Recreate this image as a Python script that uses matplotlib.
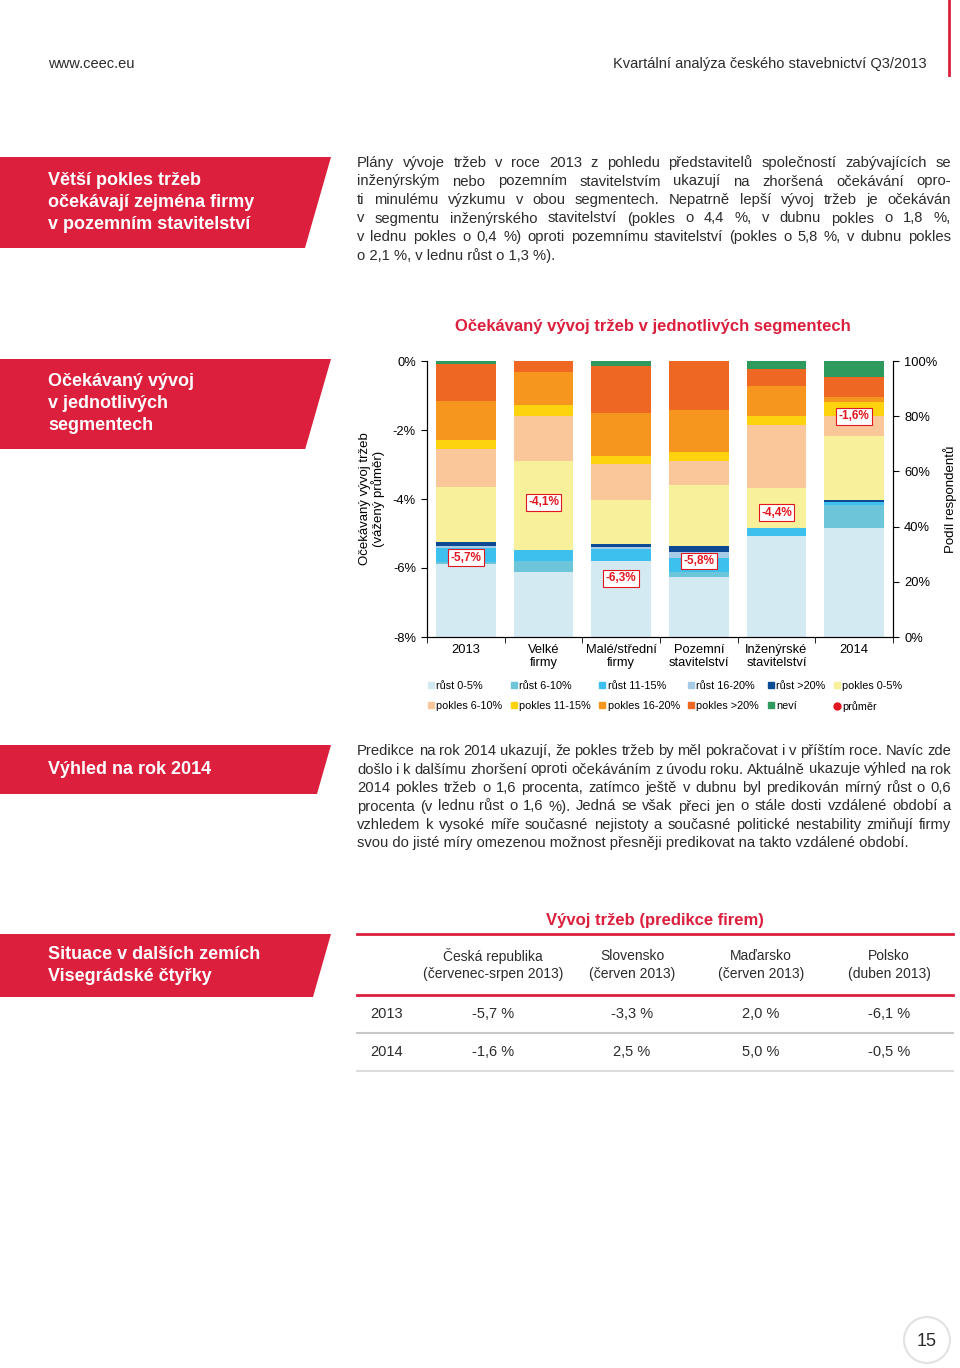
import numpy as np
import matplotlib
matplotlib.use('Agg')
import matplotlib.pyplot as plt
from matplotlib.patches import Polygon, Circle
from matplotlib.lines import Line2D

plt.rcParams['font.family'] = ['Liberation Sans', 'DejaVu Sans']

# chart data (share of respondents, %)
categories = ['2013', 'Velké\nfirmy', 'Malé/střední\nfirmy', 'Pozemní\nstavitelství',
              'Inženýrské\nstavitelství', '2014']
rust_0_5 = [26.5, 23.6, 27.6, 21.6, 36.6, 39.6]
rust_6_10 = [0.5, 4.0, 0.0, 2.1, 0.0, 8.2]
rust_11_15 = [5.1, 4.1, 4.2, 5.1, 3.0, 1.0]
rust_16_20 = [1.0, 0.0, 0.8, 1.9, 0.0, 0.0]
rust_20 = [1.2, 0.0, 1.2, 2.1, 0.0, 0.8]
pokles_0_5 = [20.0, 32.2, 16.0, 22.1, 14.3, 23.3]
pokles_6_10 = [13.9, 16.0, 12.8, 8.8, 23.0, 7.0]
pokles_11_15 = [3.3, 4.0, 2.9, 3.3, 3.0, 5.1]
pokles_16_20 = [13.9, 12.1, 15.5, 15.2, 11.2, 2.1]
pokles_20 = [13.4, 4.0, 17.2, 17.8, 5.9, 7.0]
nevi = [1.2, 0.0, 1.8, 0.0, 3.0, 5.9]
prumer = [-5.7, -4.1, -6.3, -5.8, -4.4, -1.6]

series = [('růst 0-5%', rust_0_5, '#d3eaf2'), ('růst 6-10%', rust_6_10, '#6cc5d8'),
          ('růst 11-15%', rust_11_15, '#3ec0ee'), ('růst 16-20%', rust_16_20, '#a6cbe6'),
          ('růst >20%', rust_20, '#0c4a93'), ('pokles 0-5%', pokles_0_5, '#f9f09c'),
          ('pokles 6-10%', pokles_6_10, '#fac79a'), ('pokles 11-15%', pokles_11_15, '#fdd20e'),
          ('pokles 16-20%', pokles_16_20, '#f6961f'), ('pokles >20%', pokles_20, '#ef6823'),
          ('neví', nevi, '#2f9a5d')]

# table data
tab_cols = [('Česká republika', '(červenec-srpen 2013)'), ('Slovensko', '(červen 2013)'),
            ('Maďarsko', '(červen 2013)'), ('Polsko', '(duben 2013)')]
tab_rows = ['2013', '2014']
tab_2013 = ['-5,7 %', '-3,3 %', '2,0 %', '-6,1 %']
tab_2014 = ['-1,6 %', '2,5 %', '5,0 %', '-0,5 %']

para1 = ['Plány vývoje tržeb v roce 2013 z pohledu představitelů společností zabývajících se',
         'inženýrským nebo pozemním stavitelstvím ukazují na zhoršená očekávání opro-',
         'ti minulému výzkumu v obou segmentech. Nepatrně lepší vývoj tržeb je očekáván',
         'v segmentu inženýrského stavitelství (pokles o 4,4 %, v dubnu pokles o 1,8 %,',
         'v lednu pokles o 0,4 %) oproti pozemnímu stavitelství (pokles o 5,8 %, v dubnu pokles',
         'o 2,1 %, v lednu růst o 1,3 %).']
para2 = ['Predikce na rok 2014 ukazují, že pokles tržeb by měl pokračovat i v příštím roce. Navíc zde',
         'došlo i k dalšímu zhoršení oproti očekáváním z úvodu roku. Aktuálně ukazuje výhled na rok',
         '2014 pokles tržeb o 1,6 procenta, zatímco ještě v dubnu byl predikován mírný růst o 0,6',
         'procenta (v lednu růst o 1,6 %). Jedná se však přeci jen o stále dosti vzdálené období a',
         'vzhledem k vysoké míře současné nejistoty a současné politické nestability zmiňují firmy',
         'svou do jisté míry omezenou možnost přesněji predikovat na takto vzdálené období.']

RED = '#db1f3d'
TXT = '#2b2b2b'

fig = plt.figure(figsize=(9.6, 13.68), dpi=100)
page = fig.add_axes([0, 0, 1, 1])
page.set_xlim(0, 960)
page.set_ylim(1368, 0)
page.axis('off')
rend = fig.canvas.get_renderer()


def banner(top, bottom, lines):
  slope = 0.286
  page.add_patch(Polygon([(0, top), (331, top), (331 - slope * (bottom - top), bottom), (0, bottom)],
                         closed=True, fc=RED, ec='none'))
  y0 = (top + bottom) / 2 - (len(lines) - 1) * 11
  for i, s in enumerate(lines):
    page.text(48, y0 + i * 22, s, color='white', fontsize=13, fontweight='bold', va='center')


def justify(lines, x0, x1, y0, dy, size=10.6):
  for i, line in enumerate(lines):
    y = y0 + i * dy
    words = line.split(' ')
    if i == len(lines) - 1:
      page.text(x0, y, line, fontsize=size, color=TXT, va='center')
      continue
    ts = [page.text(0, y, w, fontsize=size, color=TXT, va='center') for w in words]
    ws = [t.get_window_extent(renderer=rend).width for t in ts]
    gap = (x1 - x0 - sum(ws)) / (len(words) - 1)
    x = x0
    for t, w in zip(ts, ws):
      t.set_x(x)
      x += w + gap


# header
page.text(48, 64, 'www.ceec.eu', fontsize=10.5, color=TXT, va='center')
page.text(927, 64, 'Kvartální analýza českého stavebnictví Q3/2013', fontsize=10.5, color=TXT,
          va='center', ha='right')
page.plot([949, 949], [0, 75], color=RED, lw=2)

banner(157, 248, ['Větší pokles tržeb', 'očekávají zejména firmy', 'v pozemním stavitelství'])
banner(359, 449, ['Očekávaný vývoj', 'v jednotlivých', 'segmentech'])
banner(745, 794, ['Výhled na rok 2014'])
banner(934, 997, ['Situace v dalších zemích', 'Visegrádské čtyřky'])

justify(para1, 357, 951, 163, 18.5)
justify(para2, 357, 951, 751, 18.5)

# chart
page.text(653, 326, 'Očekávaný vývoj tržeb v jednotlivých segmentech', color=RED,
          fontsize=12, fontweight='bold', ha='center', va='center')

ax = fig.add_axes([427 / 960, 1 - 637 / 1368, 466 / 960, 276 / 1368])
x = np.arange(len(categories))
bottom = np.zeros(len(categories))
handles = []
for name, vals, col in series:
  ax.bar(x, vals, 0.77, bottom=bottom, color=col, linewidth=0)
  bottom += np.array(vals)
  handles.append(Line2D([], [], ls='none', marker='s', ms=4.5, mfc=col, mec=col, label=name))
handles.append(Line2D([], [], ls='none', marker='o', ms=5, mfc='#e2161f', mec='#e2161f', label='průměr'))

ax.set_xlim(-0.5, len(categories) - 0.5)
ax.set_ylim(0, 100)
ax.set_xticks(x, categories, fontsize=9.3, linespacing=1.15)
ax.set_xticks(np.arange(-0.5, len(categories)), minor=True)
ax.tick_params(axis='x', which='major', length=0, pad=5)
ax.tick_params(axis='x', which='minor', length=4, direction='out')
ax.spines['top'].set_visible(False)

ax2 = ax.twinx()
ax2.set_ylim(-8, 0)
ax2.yaxis.tick_left()
ax2.yaxis.set_label_position('left')
ax2.set_yticks([-8, -6, -4, -2, 0], ['-8%', '-6%', '-4%', '-2%', '0%'])
ax2.tick_params(axis='y', labelsize=9.3, length=4, direction='out', pad=4)
ax2.set_ylabel('Očekávaný vývoj tržeb\n(vážený průměr)', fontsize=9.5, linespacing=1.0)
ax2.yaxis.set_label_coords(-0.09, 0.5)
ax2.spines['top'].set_visible(False)

# share axis on the right (twinx moved it to the left)
ax.yaxis.tick_right()
ax.yaxis.set_label_position('right')
ax.set_yticks([0, 20, 40, 60, 80, 100], ['0%', '20%', '40%', '60%', '80%', '100%'])
ax.tick_params(axis='y', labelsize=9.3, length=4, direction='out', pad=4)
ax.set_ylabel('Podíl respondentů', fontsize=9.5)
ax.yaxis.set_label_coords(1.107, 0.5)

ax2.plot(x, prumer, 'o', color='#e2161f', ms=5)
for xi, v in zip(x, prumer):
  ax2.text(xi, v, ('%.1f%%' % v).replace('.', ','), color='#e2161f', fontsize=8.5, fontweight='bold',
           ha='center', va='center',
           bbox=dict(boxstyle='square,pad=0.2', fc='white', ec='#e2161f', lw=0.8))

order = [0, 6, 1, 7, 2, 8, 3, 9, 4, 10, 5, 11]
fig.legend([handles[i] for i in order], [handles[i].get_label() for i in order], ncol=6,
           loc='upper left', bbox_to_anchor=(428 / 960, 1 - 681 / 1368), frameon=False,
           fontsize=7.8, handlelength=0.5, handletextpad=0.25, columnspacing=0.8,
           labelspacing=0.9, borderaxespad=0, borderpad=0)

# table
page.text(655, 921, 'Vývoj tržeb (predikce firem)', color=RED, fontsize=12, fontweight='bold',
          ha='center', va='center')
page.plot([357, 953], [934, 934], color=RED, lw=2)
page.plot([357, 953], [995, 995], color=RED, lw=2)
page.plot([357, 953], [1033, 1033], color='#c8c8c8', lw=1.5)
page.plot([357, 953], [1071, 1071], color='#dddddd', lw=1.5)
col_x = [493, 632, 761, 889]
for cx, (h1, h2), v1, v2 in zip(col_x, tab_cols, tab_2013, tab_2014):
  page.text(cx, 956, h1, fontsize=10, color=TXT, ha='center', va='center')
  page.text(cx, 974, h2, fontsize=10, color=TXT, ha='center', va='center')
  page.text(cx, 1014, v1, fontsize=10.5, color=TXT, ha='center', va='center')
  page.text(cx, 1052, v2, fontsize=10.5, color=TXT, ha='center', va='center')
for ry, lab in zip([1014, 1052], tab_rows):
  page.text(370, ry, lab, fontsize=10.5, color=TXT, va='center')

# page number
page.add_patch(Circle((927, 1340), 23, fc='none', ec='#e2e2e2', lw=1.5))
page.text(927, 1341, '15', fontsize=13, color=TXT, ha='center', va='center')

fig.savefig('out.png', dpi=100)
